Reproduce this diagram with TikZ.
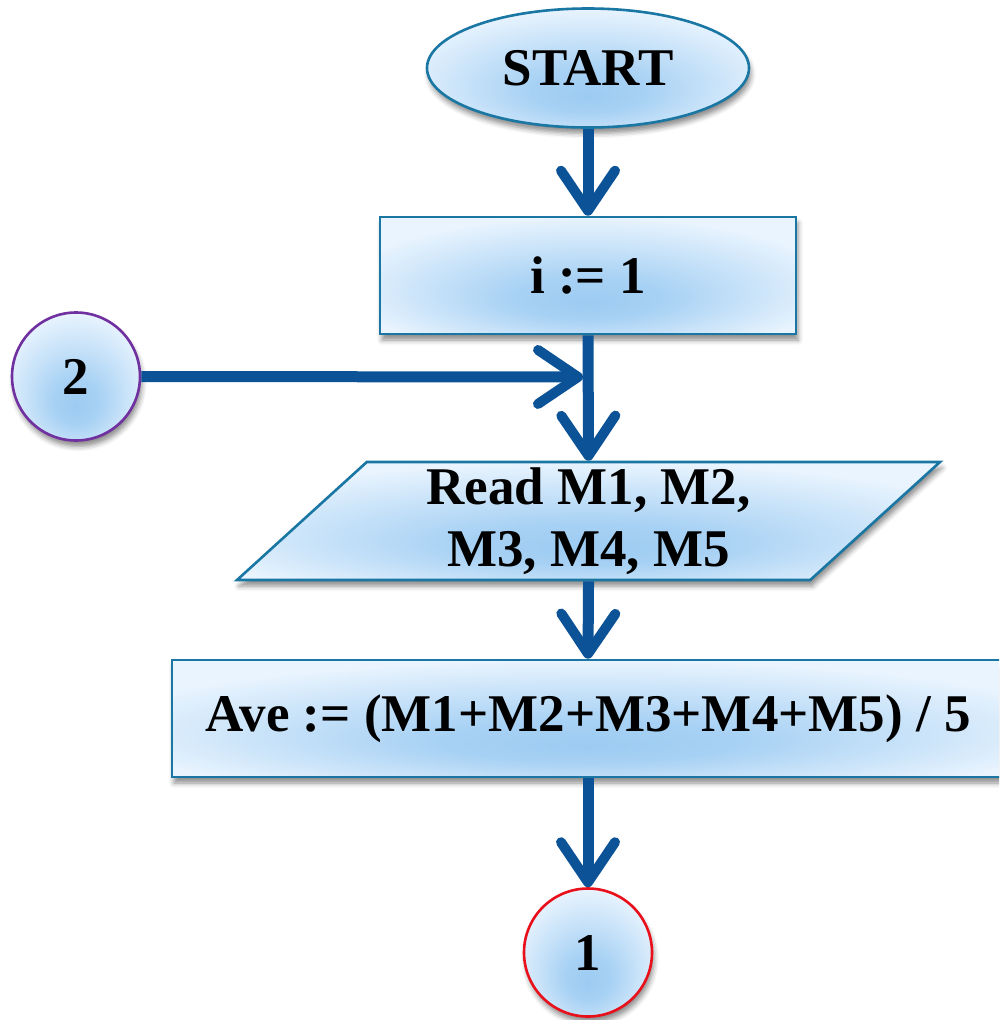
\documentclass[tikz,border=0pt]{standalone}
\usepackage{fontspec}
\setmainfont{Liberation Serif}
\usetikzlibrary{shapes.geometric,arrows.meta,shadows.blur}

\definecolor{glowin}{HTML}{9CCBF2}
\definecolor{glowout}{HTML}{E9F4FE}
\definecolor{edgeblue}{HTML}{1A76A2}
\definecolor{flowblue}{HTML}{0B5396}
\definecolor{ringpurple}{HTML}{7030A0}
\definecolor{ringred}{HTML}{E8111B}

% soft glow, darkest just below the middle of each shape
\pgfdeclareradialshading{boxglow}{\pgfpoint{0bp}{-12bp}}{%
  color(0bp)=(glowin); color(9bp)=(glowin!85!glowout);
  color(30bp)=(glowout); color(50bp)=(glowout)}

\tikzset{
  shape fill/.style={shading=boxglow, draw=edgeblue, line width=2.6pt,
    blur shadow={shadow xshift=2pt, shadow yshift=-6pt,
      shadow blur radius=5pt, shadow opacity=45}},
  label text/.style={font=\fontsize{53}{62}\selectfont\bfseries,
    text=black, align=center, inner sep=0pt},
  terminal/.style={shape fill, label text, ellipse,
    minimum width=322pt, minimum height=119pt},
  procbox/.style={shape fill, label text, rectangle,
    minimum height=117pt},
  iobox/.style={shape fill, label text, trapezium,
    trapezium left angle=39.5, trapezium right angle=140.5,
    trapezium stretches body, minimum width=703pt, minimum height=118pt},
  connector/.style={shape fill, label text, ellipse,
    minimum width=128pt, minimum height=128pt},
  flow/.style={draw=flowblue, line width=11pt,
    -{Straight Barb[length=40pt, width=54pt, line width=10pt, round]}},
}

\begin{document}
\begin{tikzpicture}[x=1pt, y=-1pt]
  \useasboundingbox (0,0) rectangle (999,1020);
  \clip (0,0) rectangle (999,1020);

  \node[terminal] (start) at (588,68) {START};
  \node[procbox, minimum width=416pt] (init) at (588,275.5) {i := 1};
  \node[connector, draw=ringpurple] (c2) at (76,376.5) {2};
  \node[iobox] (read) at (588.5,521) {Read M1, M2,\\M3, M4, M5};
  \node[procbox, minimum width=832pt] (ave) at (588,718.5)
    {Ave := (M1+M2+M3+M4+M5) / 5};
  \node[connector, draw=ringred] (c1) at (588,952.5) {1};

  \coordinate (join) at (583,377);

  \draw[flow] (start.south) -- (init.north);
  \draw[flow] (init.south) -- (read.north);
  \draw[flow] (c2.east) -- (join);
  \draw[flow] (read.south) -- (ave.north);
  \draw[flow] (ave.south) -- (c1.north);
\end{tikzpicture}
\end{document}
